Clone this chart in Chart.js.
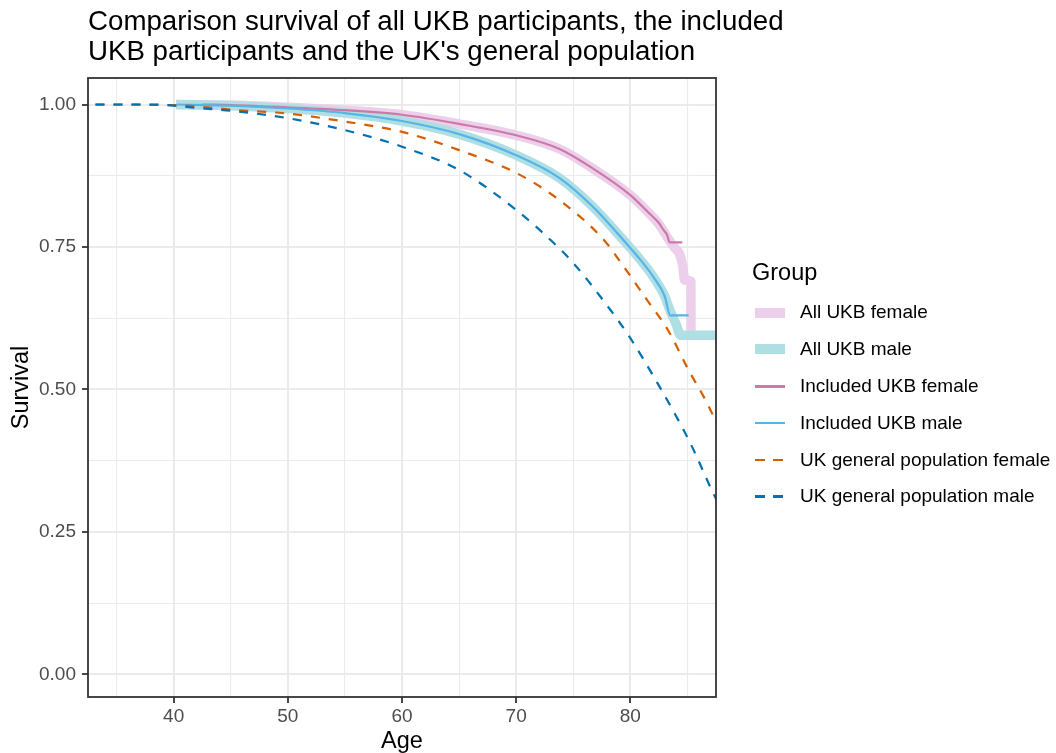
<!DOCTYPE html>
<html>
<head>
<meta charset="utf-8">
<title>Survival comparison</title>
<script src="https://cdn.jsdelivr.net/npm/chart.js@4.4.1/dist/chart.umd.min.js"></script>
<style>
  html, body { margin: 0; padding: 0; background: #fff; }
  #wrap { position: relative; width: 1056px; height: 753px; font-family: "Liberation Sans", Arial, sans-serif; }
  #survivalChart { position: absolute; left: 0; top: 0; }
  #title { position: absolute; left: 88px; top: 6px; font-size: 27.7px; line-height: 30px; color: #000; white-space: nowrap; }
  #legend { position: absolute; left: 752px; top: 0; width: 304px; height: 753px; }
  .legend-title { position: absolute; left: 0; top: 256.7px; font-size: 23.5px; line-height: 30px; }
  .legend-row { position: absolute; left: 0; height: 36.8px; width: 304px; }
  .legend-key { position: absolute; }
  .legend-text { position: absolute; left: 48px; top: 0; font-size: 19px; line-height: 36.8px; white-space: nowrap; }
</style>
</head>
<body>
<div id="wrap">
  <canvas id="survivalChart" width="1056" height="753"></canvas>
  <div id="title">Comparison survival of all UKB participants, the included<br>UKB participants and the UK's general population</div>
  <div id="legend"></div>
</div>
<script>
// ---- data (age in years, survival proportion) ----
const allFemaleAge  = [40.3, 45, 50, 55, 60, 65, 70, 73.8, 76.7, 80, 81.6, 82.5, 83.4, 83.9, 84.3, 84.6, 84.75, 85.3, 85.31];
const allFemaleSurv = [1.0, 0.999, 0.995, 0.990, 0.982, 0.966, 0.946, 0.922, 0.888, 0.841, 0.810, 0.790, 0.762, 0.748, 0.738, 0.715, 0.692, 0.690, 0.600];

const allMaleAge  = [40.2, 45, 50, 55, 60, 65, 70, 73.8, 76.7, 79.4, 80.9, 82, 83, 83.5, 84.0, 84.4, 88];
const allMaleSurv = [1.0, 0.998, 0.993, 0.985, 0.971, 0.948, 0.911, 0.871, 0.821, 0.762, 0.727, 0.698, 0.664, 0.637, 0.615, 0.595, 0.595];

const inclFemaleAge  = [42.5, 45, 50, 55, 60, 65, 70, 73.8, 76.7, 80, 81.6, 82.5, 82.9, 83.2, 83.45, 84.55];
const inclFemaleSurv = [1.0, 0.999, 0.995, 0.990, 0.982, 0.966, 0.946, 0.922, 0.888, 0.841, 0.810, 0.792, 0.780, 0.772, 0.758, 0.758];

const inclMaleAge  = [40.3, 45, 50, 55, 60, 65, 70, 73.8, 76.7, 79.4, 80.9, 82, 83, 83.5, 85.1];
const inclMaleSurv = [1.0, 0.998, 0.993, 0.985, 0.971, 0.948, 0.911, 0.871, 0.821, 0.762, 0.727, 0.698, 0.664, 0.630, 0.630];

const ukFemaleAge  = [30, 40, 43, 45, 50, 55, 60, 65, 70, 73.8, 77.7, 79.4, 81.5, 83.3, 85.05, 86.85, 88];
const ukFemaleSurv = [1.0, 0.999, 0.995, 0.991, 0.984, 0.970, 0.952, 0.920, 0.880, 0.832, 0.762, 0.716, 0.656, 0.604, 0.536, 0.471, 0.420];

const ukMaleAge  = [30, 38, 40, 42, 45, 50, 55, 60, 65, 70, 73.6, 75, 77.9, 80, 82.35, 83.85, 85.3, 87.45, 88];
const ukMaleSurv = [1.0, 1.0, 0.998, 0.994, 0.989, 0.976, 0.955, 0.926, 0.885, 0.815, 0.751, 0.722, 0.649, 0.590, 0.512, 0.459, 0.404, 0.310, 0.290];

const seriesNames = [
  "All UKB female",
  "All UKB male",
  "Included UKB female",
  "Included UKB male",
  "UK general population female",
  "UK general population male",
];
const seriesKinds = ["band", "band", "line", "line", "dash", "dash"];
const seriesColors = ["#eccfeb", "#b0dfe3", "#cc79a7", "#56b4e9", "#d55e00", "#0072b2"];

// axis breaks
const xMajor = [40, 50, 60, 70, 80];
const xMinor = [35, 45, 55, 65, 75, 85];
const yMajor = [0, 0.25, 0.5, 0.75, 1];
const yMinor = [0.125, 0.375, 0.625, 0.875];

const FONT = '"Liberation Sans", Arial, sans-serif';
Chart.defaults.font.family = FONT;

function toPoints(ages, surv) {
  return ages.map((a, i) => ({ x: a, y: surv[i] }));
}

const seriesData = [
  toPoints(allFemaleAge, allFemaleSurv),
  toPoints(allMaleAge, allMaleSurv),
  toPoints(inclFemaleAge, inclFemaleSurv),
  toPoints(inclMaleAge, inclMaleSurv),
  toPoints(ukFemaleAge, ukFemaleSurv),
  toPoints(ukMaleAge, ukMaleSurv),
];

const datasets = seriesNames.map((name, i) => {
  const kind = seriesKinds[i];
  return {
    label: name,
    data: seriesData[i],
    borderColor: seriesColors[i],
    borderWidth: kind === "band" ? 9.5 : 2.2,
    borderDash: kind === "dash" ? [9, 9] : [],
    borderJoinStyle: "round",
    cubicInterpolationMode: "monotone",
    pointRadius: 0,
    fill: false,
    clip: 0,
    order: seriesNames.length - i, // first series drawn at the bottom
  };
});

// panel border like ggplot's theme_bw
const panelBorder = {
  id: "panelBorder",
  afterDraw(chart) {
    const { ctx, chartArea } = chart;
    ctx.save();
    ctx.strokeStyle = "#333333";
    ctx.lineWidth = 1.8;
    ctx.strokeRect(chartArea.left, chartArea.top, chartArea.right - chartArea.left, chartArea.bottom - chartArea.top);
    ctx.restore();
  },
};

function gridOpts(major) {
  return {
    color: "#ebebeb",
    lineWidth: (c) => (major.includes(c.tick.value) ? 2 : 1.1),
    tickColor: (c) => (major.includes(c.tick.value) ? "#333333" : "rgba(0,0,0,0)"),
    tickWidth: 1.8,
    tickLength: 6,
    drawTicks: true,
  };
}

new Chart(document.getElementById("survivalChart"), {
  type: "line",
  data: { datasets },
  options: {
    responsive: false,
    animation: false,
    events: [],
    layout: { padding: { top: 78, right: 340, left: 0, bottom: 0 } },
    plugins: { legend: { display: false }, tooltip: { enabled: false }, title: { display: false } },
    scales: {
      x: {
        type: "linear",
        min: 32.5,
        max: 87.5,
        afterFit: (s) => { s.height = 56; },
        afterBuildTicks: (s) => {
          s.ticks = [...xMinor, ...xMajor].sort((a, b) => a - b).map((v) => ({ value: v }));
        },
        ticks: {
          autoSkip: false,
          maxRotation: 0,
          padding: 2,
          color: "#4d4d4d",
          font: { size: 19 },
          callback: (v) => (xMajor.includes(v) ? String(v) : ""),
        },
        grid: gridOpts(xMajor),
        border: { display: false },
        title: { display: true, text: "Age", color: "#000", font: { size: 23.5, lineHeight: 1 }, padding: { top: 0, bottom: 0 } },
      },
      y: {
        type: "linear",
        min: -0.0395,
        max: 1.0465,
        afterFit: (s) => { s.width = 88; },
        afterBuildTicks: (s) => {
          s.ticks = [...yMajor, ...yMinor].sort((a, b) => a - b).map((v) => ({ value: v }));
        },
        ticks: {
          autoSkip: false,
          padding: 6,
          color: "#4d4d4d",
          font: { size: 19 },
          callback: (v) => (yMajor.includes(v) ? v.toFixed(2) : ""),
        },
        grid: gridOpts(yMajor),
        border: { display: false },
        title: { display: true, text: "Survival", color: "#000", font: { size: 23.5 }, padding: { top: 7, bottom: 0 } },
      },
    },
  },
  plugins: [panelBorder],
});

// ---- legend, laid out like the ggplot guide ----
function buildLegend() {
  const legend = document.getElementById("legend");
  const title = document.createElement("div");
  title.className = "legend-title";
  title.textContent = "Group";
  legend.appendChild(title);

  const rowH = 36.8;
  const firstTop = 312.7 - rowH / 2;
  seriesNames.forEach((name, i) => {
    const row = document.createElement("div");
    row.className = "legend-row";
    row.style.top = firstTop + i * rowH + "px";

    const kind = seriesKinds[i];
    const segs = kind === "dash" ? [[3, 10], [21, 10]] : [[3, 30]];
    const h = kind === "band" ? 10 : 2.5;
    segs.forEach(([left, w]) => {
      const key = document.createElement("div");
      key.className = "legend-key";
      key.style.left = left + "px";
      key.style.width = w + "px";
      key.style.height = h + "px";
      key.style.top = rowH / 2 - h / 2 + "px";
      key.style.background = seriesColors[i];
      row.appendChild(key);
    });

    const text = document.createElement("div");
    text.className = "legend-text";
    text.textContent = name;
    row.appendChild(text);
    legend.appendChild(row);
  });
}

buildLegend();
</script>
</body>
</html>
